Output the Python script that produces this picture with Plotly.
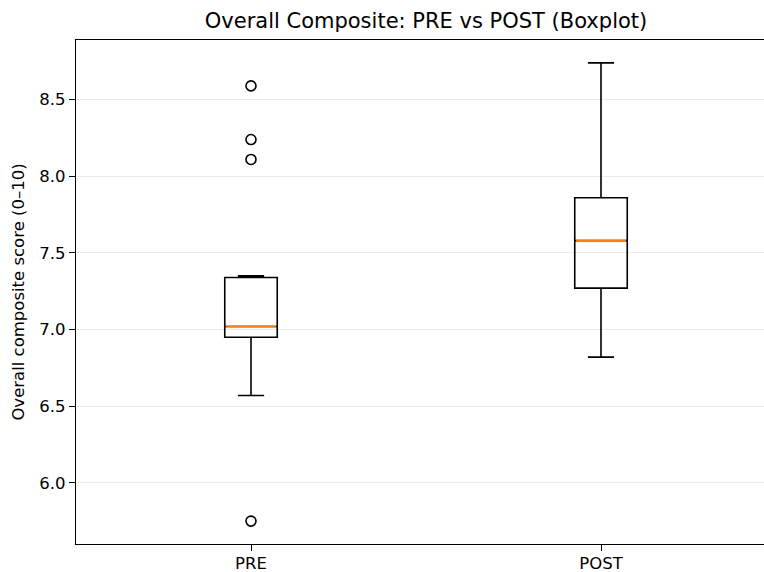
import plotly.graph_objects as go

groups = ["PRE", "POST"]
positions = [1, 2]
q1 = [6.95, 7.27]
median = [7.02, 7.58]
q3 = [7.34, 7.86]
lower_whisker = [6.57, 6.82]
upper_whisker = [7.35, 8.74]
outliers_pre = [8.59, 8.24, 8.11, 5.75]
outliers_post = []

box_w = 0.15
font_family = "DejaVu Sans"

fig = go.Figure()
for i, g in enumerate(groups):
    fig.add_trace(go.Box(
        x=[positions[i]], q1=[q1[i]], median=[median[i]], q3=[q3[i]],
        lowerfence=[lower_whisker[i]], upperfence=[upper_whisker[i]],
        width=box_w, whiskerwidth=0.5, boxpoints=False,
        line=dict(color="black", width=1.6), fillcolor="rgba(0,0,0,0)",
        showlegend=False, hoverinfo="skip", name=g,
    ))
for i, g in enumerate(groups):
    fig.add_trace(go.Scatter(
        x=[positions[i] - box_w / 2 + 0.004, positions[i] + box_w / 2 - 0.004],
        y=[median[i], median[i]], mode="lines",
        line=dict(color="#ff7f0e", width=2), showlegend=False, hoverinfo="skip",
    ))

for pos, outs in zip(positions, [outliers_pre, outliers_post]):
    if outs:
        fig.add_trace(go.Scatter(
            x=[pos] * len(outs), y=outs, mode="markers",
            marker=dict(symbol="circle-open", size=10, color="black", line=dict(width=1.6)),
            showlegend=False, hoverinfo="skip",
        ))

all_vals = q1 + median + q3 + lower_whisker + upper_whisker + outliers_pre + outliers_post
lo, hi = min(all_vals), max(all_vals)
pad = (hi - lo) * 0.05

fig.update_layout(
    width=764, height=572,
    margin=dict(l=76, r=0, t=40, b=28),
    paper_bgcolor="white", plot_bgcolor="white",
    font=dict(family=font_family, size=16, color="black"),
    title=dict(text="Overall Composite: PRE vs POST (Boxplot)", x=426 / 764, xref="container",
               xanchor="center", y=1 - 21 / 572, yanchor="middle",
               font=dict(size=21, family=font_family)),
    xaxis=dict(
        range=[0.5, 0.5 + 688 / 350], tickvals=positions, ticktext=groups,
        showline=True, mirror=True, linecolor="black", linewidth=1.3,
        ticks="outside", ticklen=6, tickwidth=1.3, tickcolor="black",
        showgrid=False, zeroline=False, tickfont=dict(size=16.5),
        automargin=False, ticklabelstandoff=-2,
    ),
    yaxis=dict(
        range=[lo - pad, hi + pad], tickvals=[6.0, 6.5, 7.0, 7.5, 8.0, 8.5],
        tickformat=".1f", showline=True, mirror=False, linecolor="black", linewidth=1.3,
        ticks="outside", ticklen=6, tickwidth=1.3, tickcolor="black",
        showgrid=True, gridcolor="#ebebeb", gridwidth=1.3, zeroline=False,
        tickfont=dict(size=16.5), automargin=False,
        title=dict(text="Overall composite score (0–10)", font=dict(size=16.5), standoff=10),
    ),
)

fig.write_html(
    "out.html",
    config={"displayModeBar": False},
    post_script="document.body.style.margin='0';document.body.style.overflow='hidden';",
)
